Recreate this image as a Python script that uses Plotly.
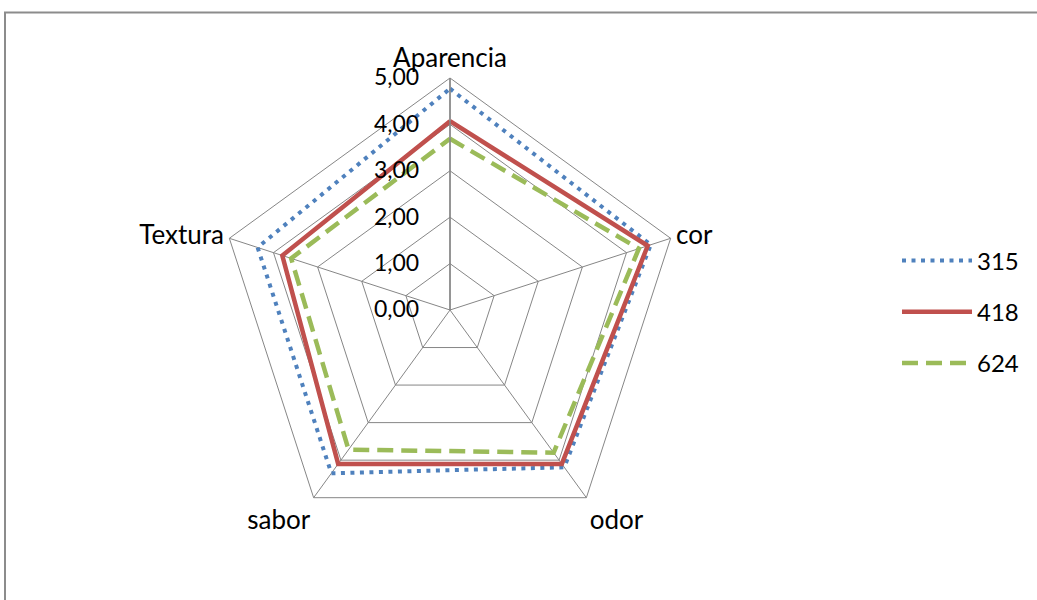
import plotly.graph_objects as go

# Sensory attributes (clockwise from the top)
categories = ["Aparencia", "cor", "odor", "sabor", "Textura"]

# Mean scores per sample
scores_315 = [4.77, 4.55, 4.19, 4.35, 4.36]
scores_418 = [4.07, 4.48, 4.10, 4.10, 3.80]
scores_624 = [3.69, 4.28, 3.80, 3.72, 3.60]

radial_ticks = [0, 1, 2, 3, 4, 5]

series = [
    ("315", scores_315, "#4F81BD", "4px,5.5px", 4),
    ("418", scores_418, "#C0504D", "solid", 4.5),
    ("624", scores_624, "#9BBB59", "16px,8px", 4.5),
]

FONT = "Lato, Open Sans, sans-serif"

fig = go.Figure()
for name, vals, color, dash, width in series:
    fig.add_trace(go.Scatterpolar(
        r=vals + vals[:1],
        theta=categories + categories[:1],
        mode="lines",
        name=name,
        legendgroup=name,
        line=dict(color=color, dash=dash, width=width),
        hoverinfo="r+theta+name",
    ))

W, H = 1037, 600
cx, cy, R = 450, 310, 232

fig.update_layout(
    width=W,
    height=H,
    margin=dict(l=0, r=0, t=0, b=0),
    paper_bgcolor="white",
    plot_bgcolor="white",
    separators=",.",
    font=dict(family=FONT, size=23, color="black"),
    polar=dict(
        domain=dict(x=[(cx - R) / W, (cx + R) / W],
                    y=[(H - cy - R) / H, (H - cy + R) / H]),
        bgcolor="white",
        gridshape="linear",
        radialaxis=dict(
            range=[0, 5],
            tickvals=radial_ticks,
            tickformat=".2f",
            angle=90,
            tickangle=90,
            side="counterclockwise",
            showline=True,
            linecolor="#868686",
            linewidth=1.5,
            gridcolor="#868686",
            gridwidth=1,
            ticks="outside",
            ticklen=22,
            tickcolor="rgba(0,0,0,0)",
            tickfont=dict(family=FONT, size=23, color="black"),
        ),
        angularaxis=dict(
            rotation=90,
            direction="clockwise",
            showline=True,
            linecolor="#868686",
            linewidth=1,
            gridcolor="#868686",
            gridwidth=1,
            ticks="",
            tickfont=dict(family=FONT, size=26, color="black"),
        ),
    ),
    showlegend=True,
    legend=dict(
        x=0.865,
        y=(H - 312) / H,
        xanchor="left",
        yanchor="middle",
        itemwidth=70,
        tracegroupgap=17,
        font=dict(family=FONT, size=24, color="black"),
        bgcolor="rgba(0,0,0,0)",
    ),
    shapes=[dict(
        type="rect", xref="paper", yref="paper",
        x0=5 / W, x1=1.02, y0=-0.02, y1=1 - 12.5 / H,
        line=dict(color="#8c8c8c", width=2),
        fillcolor="rgba(0,0,0,0)",
        layer="below",
    )],
)

fig.write_html("out.html")
